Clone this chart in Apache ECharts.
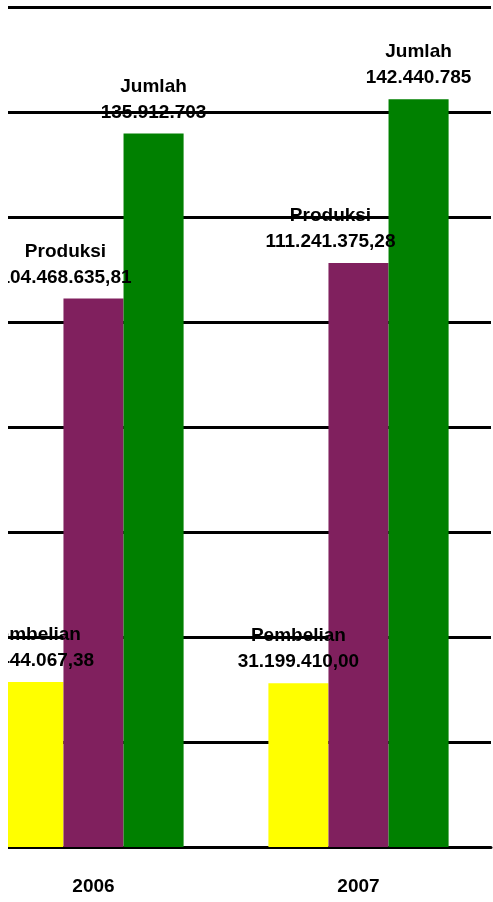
<!DOCTYPE html>
<html>
<head>
<meta charset="utf-8">
<script src="https://cdn.jsdelivr.net/npm/echarts@6/dist/echarts.min.js"></script>
<style>
  html, body { margin: 0; padding: 0; background: #fff; }
  #chart { width: 493px; height: 902px; }
</style>
</head>
<body>
<div id="chart"></div>
<script>
  // data
  const years = ['2006', '2007']
  const pembelian = [31444067.38, 31199410.00]
  const produksi = [104468635.81, 111241375.28]
  const jumlah = [135912703, 142440785]
  const pembelianText = ['31.444.067,38', '31.199.410,00']
  const produksiText = ['104.468.635,81', '111.241.375,28']
  const jumlahText = ['135.912.703', '142.440.785']

  const labelFont = {
    fontFamily: 'Liberation Sans, Arial, sans-serif',
    fontWeight: 'bold',
    fontSize: 19,
    lineHeight: 26,
    color: '#000'
  }

  let myChart = echarts.init(document.getElementById('chart'))

  function mkSeries(name, data, texts, color, offset) {
    return {
      name: name,
      type: 'bar',
      data: data,
      barGap: '0%',
      barCategoryGap: '32%',
      itemStyle: { color: color },
      label: Object.assign({
        show: true,
        position: 'top',
        distance: 8,
        offset: offset,
        formatter: p => name + '\n' + texts[p.dataIndex]
      }, labelFont)
    }
  }

  let option = {
    animation: false,
    backgroundColor: '#fff',
    grid: { left: -39, top: 7, width: 530, bottom: 55, outerBoundsMode: 'none', containLabel: false },
    xAxis: {
      type: 'category',
      data: years,
      axisLine: { lineStyle: { color: '#000', width: 3 } },
      axisTick: { length: 7, lineStyle: { color: '#000', width: 2 } },
      axisLabel: {
        margin: 30,
        fontFamily: 'Liberation Sans, Arial, sans-serif',
        fontWeight: 'bold',
        fontSize: 19,
        color: '#000'
      }
    },
    yAxis: {
      type: 'value',
      min: 0,
      max: 160000000,
      interval: 20000000,
      axisLabel: { show: false },
      axisLine: { show: false },
      axisTick: { show: false },
      splitLine: { lineStyle: { color: '#000', width: 3 } }
    },
    series: [
      mkSeries('Pembelian', pembelian, pembelianText, '#ffff00', [0, 0]),
      mkSeries('Produksi', produksi, produksiText, '#80205e', [-28, 0]),
      mkSeries('Jumlah', jumlah, jumlahText, '#008000', [0, 0])
    ],
    graphic: [{
      type: 'rect',
      left: 0,
      top: 0,
      z: 100,
      shape: { width: 8, height: 902 },
      style: { fill: '#fff' }
    }]
  }
  myChart.setOption(option)
</script>
</body>
</html>
